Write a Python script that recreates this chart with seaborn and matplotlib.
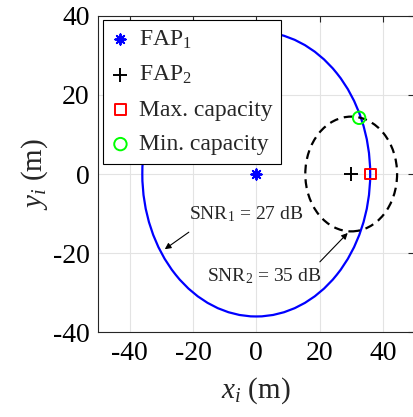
import matplotlib
matplotlib.use("Agg")
import matplotlib.pyplot as plt
from matplotlib.patches import Circle
import seaborn as sns

# Data
fap1 = [0.0, 0.0]
fap2 = [30.0, 0.0]
max_cap = [36.0, 0.0]
min_cap = [32.5, 14.2]
snr1_radius = 36.0   # SNR_1 = 27 dB contour around FAP_1
snr2_radius = 14.5   # SNR_2 = 35 dB contour around FAP_2
ticks = [-40, -20, 0, 20, 40]

sns.set_style("white")
plt.rcParams["font.family"] = ["Liberation Serif", "DejaVu Serif"]
plt.rcParams["mathtext.fontset"] = "custom"
plt.rcParams["mathtext.rm"] = "Liberation Serif"
plt.rcParams["mathtext.it"] = "Liberation Serif:italic"
plt.rcParams["axes.unicode_minus"] = False

fig = plt.figure(figsize=(4.13, 4.17), dpi=100)
ax = fig.add_axes([98 / 413, (417 - 332.3) / 417, 316.5 / 413, 316.6 / 417])

# Contours
ax.add_patch(Circle(fap1, snr1_radius, fill=False, edgecolor="#0000ff", lw=1.6, zorder=3))
ax.add_patch(Circle(fap2, snr2_radius, fill=False, edgecolor="black", lw=1.6,
                    linestyle=(0, (4, 2.6)), zorder=3))

# Points
sns.scatterplot(x=[fap1[0]], y=[fap1[1]], marker=(8, 2, 0), s=55, color="#0000ff",
                linewidth=1.4, label="FAP$_1$", ax=ax, zorder=5)
sns.scatterplot(x=[fap2[0]], y=[fap2[1]], marker="+", s=110, color="black",
                linewidth=1.4, label="FAP$_2$", ax=ax, zorder=5)
sns.scatterplot(x=[max_cap[0]], y=[max_cap[1]], marker="s", s=60, facecolor="none",
                edgecolor="#ff0000", linewidth=1.4, label="Max. capacity", ax=ax, zorder=5)
sns.scatterplot(x=[min_cap[0]], y=[min_cap[1]], marker="o", s=80, facecolor="none",
                edgecolor="#00ff00", linewidth=1.4, label="Min. capacity", ax=ax, zorder=5)

# Annotations
arrow = dict(arrowstyle="-|>", color="black", lw=0.8, shrinkA=0, shrinkB=0,
             mutation_scale=9)
ax.annotate("", xy=(-28.9, -19.0), xytext=(-21.3, -14.7), arrowprops=arrow)
ax.annotate("", xy=(28.9, -14.9), xytext=(20.1, -22.2), arrowprops=arrow)
ax.text(-3.2, -11.4, "SNR$_1$ = 27 dB", ha="center", va="baseline", fontsize=14)
ax.text(2.4, -27.0, "SNR$_2$ = 35 dB", ha="center", va="baseline", fontsize=14)

ax.set_xlim(-50, 50)
ax.set_ylim(-40, 40)
ax.set_xticks(ticks)
ax.set_yticks(ticks)
ax.grid(True, color="#e3e3e3", lw=0.8)
ax.set_axisbelow(True)
ax.tick_params(direction="in", length=4, width=0.8, top=True, right=True,
               labelsize=20, pad=6, colors="#262626", labelcolor="black")
for sp in ax.spines.values():
    sp.set_color("#262626")
    sp.set_linewidth(0.8)

ax.set_xlabel("$x_i$ (m)", fontsize=21, labelpad=7)
ax.set_ylabel("$y_i$ (m)", fontsize=21, labelpad=2)

leg = ax.legend(loc="upper left", fontsize=17, frameon=True, fancybox=False,
                edgecolor="black", framealpha=1, handlelength=0.8, handletextpad=0.4,
                borderaxespad=0.2, borderpad=0.35, labelspacing=0.55)
leg.get_frame().set_linewidth(0.8)

fig.savefig("out.png", dpi=100)
